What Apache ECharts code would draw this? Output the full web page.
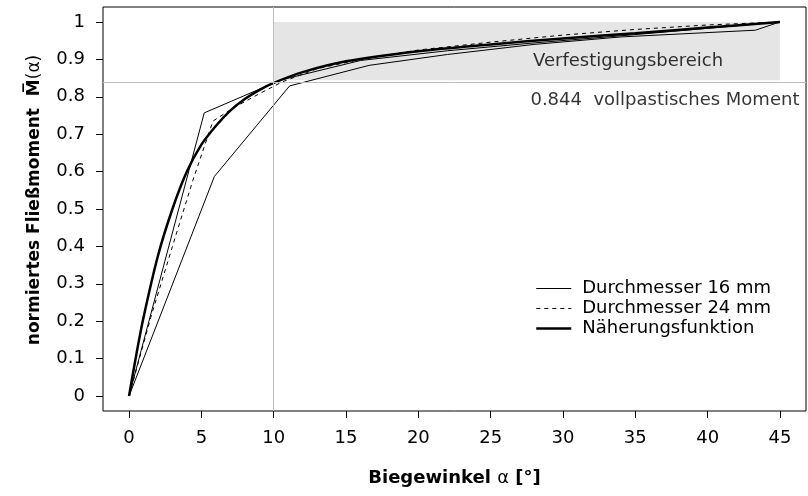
<!DOCTYPE html>
<html>
<head>
<meta charset="utf-8">
<script src="https://cdn.jsdelivr.net/npm/echarts@6/dist/echarts.min.js"></script>
<style>
  html, body { margin: 0; padding: 0; background: #fff; }
  #chart { width: 808px; height: 496px; }
</style>
</head>
<body>
<div id="chart"></div>
<script>
// Tick positions
const xTicks = [0, 5, 10, 15, 20, 25, 30, 35, 40, 45];
const yTicks = [0, 0.1, 0.2, 0.3, 0.4, 0.5, 0.6, 0.7, 0.8, 0.9, 1];

// Measured moment curves, bending angle [deg] vs. normalised moment
const probe16a = [[0, 0], [5.2, 0.757], [10.5, 0.845], [16, 0.897], [22, 0.923], [28, 0.944], [34, 0.963], [40, 0.983], [45, 1]];
const probe16b = [[0, 0], [5.9, 0.587], [11.1, 0.829], [16.6, 0.884], [22, 0.913], [28, 0.94], [34, 0.96], [43.3, 0.978], [45, 1]];
const probe24 = [[0, 0], [1.5, 0.21], [3, 0.4], [4.4, 0.575], [5.8, 0.735], [7.2, 0.77], [9, 0.808], [10.6, 0.84], [13, 0.875], [16, 0.9], [20, 0.925], [25, 0.946], [30, 0.965], [35, 0.98], [40, 0.992], [45, 1]];
// Approximation function
const approxCurve = [[0, 0], [0.5, 0.11], [1, 0.21], [2, 0.375], [3, 0.5], [4, 0.6], [5, 0.672], [6, 0.722], [7, 0.763], [8, 0.794], [9, 0.818], [10, 0.837], [12, 0.866], [15, 0.895], [20, 0.922], [25, 0.94], [30, 0.956], [35, 0.97], [40, 0.985], [45, 1]];

// Fully plastic moment and hardening range
const plasticMoment = 0.844;
const hardeningRange = [10, 45];
const hardeningTop = 1;

const FONT = 'DejaVu Sans';
const chart = echarts.init(document.getElementById('chart'), null, { renderer: 'canvas' });

const thin = { color: '#000', width: 1 };
const dashed = { color: '#000', width: 1, type: [4, 4] };
const thick = { color: '#000', width: 2.5 };

chart.setOption({
  animation: false,
  backgroundColor: '#fff',
  textStyle: { fontFamily: FONT, color: '#000' },
  grid: {
    left: 103, right: 2, top: 7, bottom: 85,
    show: true, borderColor: '#000', borderWidth: 1, backgroundColor: 'transparent'
  },
  legend: {
    data: [
      { name: 'Durchmesser 16 mm', lineStyle: thin },
      { name: 'Durchmesser 24 mm', lineStyle: dashed },
      { name: 'Näherungsfunktion', lineStyle: thick }
    ],
    orient: 'vertical',
    left: 530, top: 274.5,
    itemWidth: 35, itemHeight: 14, itemGap: 2,
    itemStyle: { opacity: 0 },
    textStyle: { fontFamily: FONT, fontSize: 18, color: '#000', padding: [0, 0, 0, 6] }
  },
  xAxis: {
    type: 'value', min: -1.8, max: 46.8,
    axisLine: { show: false, onZero: false },
    splitLine: { show: false },
    axisTick: { show: true, length: 7, inside: false, customValues: xTicks, lineStyle: { color: '#000' } },
    axisLabel: { customValues: xTicks, margin: 18, fontSize: 18, color: '#000', fontFamily: FONT },
    name: '{b|Biegewinkel }{n|α}{b| [°]}',
    nameLocation: 'middle', nameGap: 58,
    nameTextStyle: {
      rich: {
        b: { fontFamily: FONT, fontWeight: 'bold', fontSize: 18, color: '#000' },
        n: { fontFamily: FONT, fontSize: 18, color: '#000' }
      }
    }
  },
  yAxis: {
    type: 'value', min: -0.04, max: 1.04,
    axisLine: { show: false, onZero: false },
    splitLine: { show: false },
    axisTick: { show: true, length: 7, inside: false, customValues: yTicks, lineStyle: { color: '#000' } },
    axisLabel: { customValues: yTicks, margin: 18, fontSize: 18, color: '#000', fontFamily: FONT },
    name: '{b|normiertes Fließmoment  M\u0305}{n|(α)}',
    nameLocation: 'middle', nameGap: 60, nameRotate: 90,
    nameTextStyle: {
      padding: [0, 0, 0, 18],
      rich: {
        b: { fontFamily: FONT, fontWeight: 'bold', fontSize: 17, color: '#000' },
        n: { fontFamily: FONT, fontSize: 17, color: '#000' }
      }
    }
  },
  series: [
    {
      name: 'Durchmesser 16 mm', type: 'line', data: probe16a,
      symbol: 'none', lineStyle: thin, itemStyle: { color: '#000' }, z: 3,
      markArea: {
        silent: true,
        itemStyle: { color: '#e5e5e5' },
        data: [[{ coord: [hardeningRange[0], plasticMoment] }, { coord: [hardeningRange[1], hardeningTop] }]]
      },
      markLine: {
        silent: true, symbol: 'none', label: { show: false },
        lineStyle: { color: '#bebebe', width: 1, type: 'solid' },
        data: [{ xAxis: hardeningRange[0] }, { yAxis: plasticMoment }]
      }
    },
    {
      name: 'Durchmesser 16 mm', type: 'line', data: probe16b,
      symbol: 'none', lineStyle: thin, itemStyle: { color: '#000' }, z: 3
    },
    {
      name: 'Durchmesser 24 mm', type: 'line', data: probe24,
      symbol: 'none', lineStyle: dashed, itemStyle: { color: '#000' }, z: 3
    },
    {
      name: 'Näherungsfunktion', type: 'line', data: approxCurve,
      symbol: 'none', smooth: 0.3,
      lineStyle: thick, itemStyle: { color: '#000' }, z: 4
    },
    {
      // text annotations inside the plot
      type: 'scatter', symbolSize: 0, silent: true, z: 5,
      data: [
        { value: [34.5, 0.895], label: { formatter: 'Verfestigungsbereich', position: 'inside', align: 'center' } },
        { value: [27.75, 0.79], label: { formatter: plasticMoment + '  vollpastisches Moment', position: 'inside', align: 'left' } }
      ],
      label: { show: true, fontFamily: FONT, fontSize: 18, color: '#000', verticalAlign: 'middle' }
    }
  ]
});
</script>
</body>
</html>
